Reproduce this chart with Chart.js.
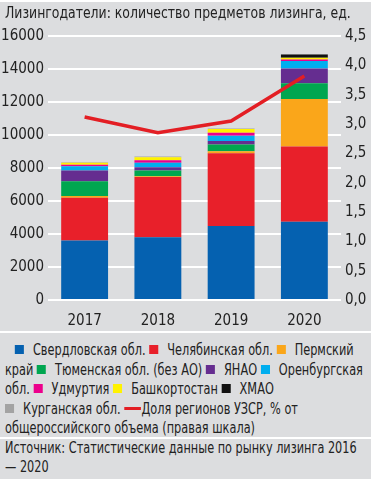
<!DOCTYPE html>
<html>
<head>
<meta charset="utf-8">
<script src="https://cdn.jsdelivr.net/npm/chart.js@4"></script>
<style>
  html, body { margin: 0; padding: 0; }
  body {
    width: 371px; height: 479px; overflow: hidden; position: relative;
    background: #dcdddf;
    font-family: "DejaVu Sans", sans-serif;
    color: #222;
  }
  .sep { position: absolute; left: 0; width: 371px; height: 2px; background: #fff; }
  #chartBox { position: absolute; left: 0; top: 0; width: 371px; height: 330px; }
  /* narrow text: draw normally and squeeze horizontally */
  .narrow { position: absolute; left: 5px; transform-origin: 0 0; }
  #title { top: 3px; font-size: 16px; white-space: nowrap; transform: scaleX(0.778); }
  #legend { top: 341px; width: 486px; font-size: 15px; line-height: 19.5px; text-indent: 13px; transform: scaleX(0.755); }
  #legend .nw { white-space: nowrap; }
  #legend .sw { display: inline-block; width: 12px; height: 9px; margin-right: 12px; vertical-align: 1px; }
  #legend .ln { display: inline-block; width: 22px; height: 3px; margin-right: 1px; vertical-align: 4px; }
  #source { top: 439px; width: 481px; font-size: 15px; line-height: 19px; transform: scaleX(0.753); }
</style>
</head>
<body>
<div class="sep" style="top:0"></div>
<div id="chartBox"><canvas id="chart" width="371" height="330"></canvas></div>
<div id="title" class="narrow">Лизингодатели: количество предметов лизинга, ед.</div>
<div class="sep" style="top:331px"></div>
<div id="legend" class="narrow"></div>
<div class="sep" style="top:437px"></div>
<div id="source" class="narrow">Источник: Статистические данные по рынку лизинга 2016 —&nbsp;2020</div>

<script>
const years = ['2017', '2018', '2019', '2020'];

const regionNames = [
    'Свердловская обл.', 'Челябинская обл.', 'Пермский край', 'Тюменская обл. (без АО)',
    'ЯНАО', 'Оренбургская обл.', 'Удмуртия', 'Башкортостан', 'ХМАО', 'Курганская обл.'
];
const regionColors = [
    '#0561b0', '#e8202a', '#faa61a', '#00a650',
    '#652d90', '#00aeef', '#ec008c', '#fff200', '#111111', '#a3a3a3'
];

const sverdlovsk = [3600, 3800, 4480, 4750];
const chelyabinsk = [2600, 3650, 4420, 4550];
const perm = [100, 50, 120, 2880];
const tyumen = [900, 350, 400, 950];
const yanao = [650, 200, 220, 900];
const orenburg = [250, 270, 320, 450];
const udmurtia = [100, 150, 180, 100];
const bashkortostan = [120, 180, 220, 100];
const khmao = [0, 0, 0, 200];
const kurgan = [30, 50, 30, 20];

const shareLabel = 'Доля регионов УЗСР, % от общероссийского объема (правая шкала)';
const shareValues = [3.12, 2.85, 3.05, 3.82];

const leftTicks = [0, 2000, 4000, 6000, 8000, 10000, 12000, 14000, 16000];
const rightTicks = [0, 0.5, 1, 1.5, 2, 2.5, 3, 3.5, 4, 4.5];

const regionSeries = [sverdlovsk, chelyabinsk, perm, tyumen, yanao, orenburg, udmurtia, bashkortostan, khmao, kurgan];

// 'condensed' goes in front of the size in the canvas font string
const tickFont = { family: "'DejaVu Sans', sans-serif", size: 15, weight: 'condensed' };

const datasets = regionSeries.map((vals, i) => ({
    type: 'bar',
    label: regionNames[i],
    data: vals,
    backgroundColor: regionColors[i],
    borderWidth: 0,
    stack: 's',
    yAxisID: 'y',
    order: 1,
    barPercentage: 0.64,
    categoryPercentage: 1
}));

datasets.push({
    type: 'line',
    label: shareLabel,
    data: shareValues,
    borderColor: '#e31e24',
    borderWidth: 3.5,
    pointRadius: 0,
    tension: 0,
    yAxisID: 'y1',
    order: 0
});

new Chart(document.getElementById('chart').getContext('2d'), {
    data: { labels: years, datasets: datasets },
    options: {
        responsive: false,
        animation: false,
        layout: { padding: { top: 36, bottom: 4, left: 0, right: 0 } },
        plugins: { legend: { display: false }, tooltip: { enabled: false } },
        scales: {
            x: {
                stacked: true,
                grid: { display: false },
                border: { display: false },
                ticks: { color: '#222', font: tickFont, padding: 4 },
                afterFit: s => { s.height = 26; }
            },
            y: {
                stacked: true,
                position: 'left',
                min: 0, max: 16000,
                afterBuildTicks: s => { s.ticks = leftTicks.map(v => ({ value: v })); },
                grid: { color: '#ffffff', lineWidth: 2, drawTicks: false },
                border: { display: false },
                ticks: { color: '#222', font: tickFont, padding: 4, callback: v => String(v) },
                afterFit: s => { s.width = 48; }
            },
            y1: {
                position: 'right',
                min: 0, max: 4.5,
                afterBuildTicks: s => { s.ticks = rightTicks.map(v => ({ value: v })); },
                grid: { display: false, drawTicks: false },
                border: { display: false },
                ticks: {
                    color: '#222', font: tickFont, padding: 4,
                    callback: v => v.toFixed(1).replace('.', ',')
                },
                afterFit: s => { s.width = 30; }
            }
        }
    }
});

// HTML legend, wraps inside labels like the original
function legendEntry(marker, text) {
    const sp = text.indexOf(' ');
    const first = sp < 0 ? text : text.slice(0, sp);
    const rest = sp < 0 ? '' : text.slice(sp);
    return '<span class="nw">' + marker + first + '</span>' + rest;
}
const legend = document.getElementById('legend');
let html = '';
regionNames.forEach((name, i) => {
    if (i === regionNames.length - 1) html += '<br>'; // original starts a new row here
    html += legendEntry('<span class="sw" style="background:' + regionColors[i] + '"></span>', name) + ' ';
});
html += legendEntry('<span class="ln" style="background:#e31e24"></span>', shareLabel);
legend.innerHTML = html;
</script>
</body>
</html>
